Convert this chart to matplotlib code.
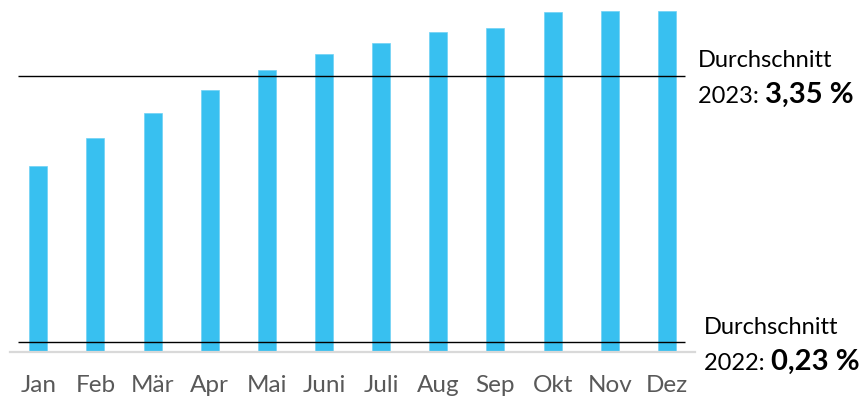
import matplotlib
matplotlib.use("Agg")
import matplotlib.pyplot as plt
import numpy as np

plt.rcParams["font.family"] = ["Lato", "DejaVu Sans"]

months = ["Jan", "Feb", "Mär", "Apr", "Mai", "Juni", "Juli", "Aug", "Sep", "Okt", "Nov", "Dez"]
values_2023 = [2.30, 2.62, 2.92, 3.19, 3.42, 3.61, 3.74, 3.87, 3.92, 4.10, 4.11, 4.12]
avg_2023 = 3.35
avg_2022 = 0.23
avg_labels = ["3,35 %", "0,23 %"]

W, H = 861, 402
fig = plt.figure(figsize=(W / 100, H / 100), dpi=100)
ax = fig.add_axes([9.7 / W, (H - 352.5) / H, 685.8 / W, 352.5 / H])

x = np.arange(len(months))
ax.bar(x, values_2023, width=0.315, color="#38c0f0", edgecolor="#6fd2f5", linewidth=0.5, zorder=2)

ax.hlines([avg_2023, avg_2022], -0.36, 11.32, color="black", linewidth=1.0, zorder=3)

ax.set_xlim(-0.5, 11.5)
ax.set_ylim(0.122, 4.256)
ax.set_xticks(x)
ax.set_xticklabels(months, fontsize=17.5, color="#595959")
ax.tick_params(axis="x", length=0, pad=16)
ax.set_yticks([])
for s in ("top", "right", "left"):
    ax.spines[s].set_visible(False)
ax.spines["bottom"].set_color("#d9d9d9")
ax.spines["bottom"].set_linewidth(1.6)

def label(xl, ytop, ybot, year, val):
    fig.text(xl / W, 1 - ytop / H, "Durchschnitt", fontsize=17, va="baseline", ha="left")
    t = fig.text(xl / W, 1 - ybot / H, year + ": ", fontsize=17, va="baseline", ha="left")
    fig.canvas.draw()
    bb = t.get_window_extent()
    fig.text(bb.x1 / W, 1 - ybot / H, val, fontsize=21, fontweight="bold", va="baseline", ha="left")

label(698, 66.7, 103.3, "2023", avg_labels[0])
label(704, 334, 370, "2022", avg_labels[1])

fig.savefig("out.png", dpi=100)
